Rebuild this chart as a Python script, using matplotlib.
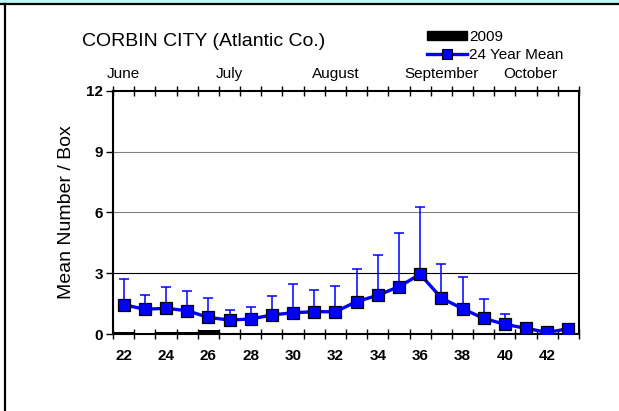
import matplotlib
matplotlib.use("Agg")
import matplotlib.pyplot as plt
import numpy as np
from matplotlib.patches import Patch, Rectangle
from matplotlib.lines import Line2D

plt.rcParams['font.family'] = ['Liberation Sans', 'DejaVu Sans']

weeks = list(range(22, 44))
mean_24yr = [1.45, 1.22, 1.27, 1.15, 0.82, 0.69, 0.74, 0.94, 1.05, 1.1,
             1.1, 1.6, 1.91, 2.34, 2.95, 1.78, 1.25, 0.77, 0.48, 0.28, 0.08, 0.26]
mean_upper = [2.7, 1.93, 2.34, 2.14, 1.76, 1.19, 1.32, 1.88, 2.45, 2.15,
              2.37, 3.21, 3.9, 4.99, 6.29, 3.47, 2.81, 1.74, 1.0, 0.4, 0.15, 0.35]
y2009 = [0.09, 0, 0.08, 0.08, 0.2, 0, 0, 0, 0, 0,
         0, 0, 0, 0, 0, 0, 0, 0, 0, 0, 0, 0]
months = ["June", "July", "August", "September", "October"]
month_pos = [22.0, 27.0, 32.0, 37.0, 41.2]

W, H = 619, 411
fig = plt.figure(figsize=(W / 100, H / 100), dpi=100)
ax = fig.add_axes([113 / W, 1 - 334 / H, (579 - 113) / W, (334 - 91) / H])

# page frame
fig.patches.append(Rectangle((0, 1 - 3 / H), 1, 3 / H, transform=fig.transFigure,
                             facecolor="#c0f8f8", edgecolor="none"))
fig.lines.append(Line2D([0, 1], [1 - 4 / H, 1 - 4 / H], transform=fig.transFigure,
                        color="black", lw=1.6))
fig.lines.append(Line2D([5 / W, 5 / W], [0, 1 - 4 / H], transform=fig.transFigure,
                        color="black", lw=1.6))

# gridlines
ax.axhline(3, color="black", lw=0.8, zorder=1)
for g in [6, 9]:
    ax.axhline(g, color="#808080", lw=0.8, zorder=1)

ax.bar(weeks, y2009, width=1.0, color="black", zorder=2, clip_on=False)

mean_arr = np.array(mean_24yr)
up = np.array(mean_upper) - mean_arr
ax.errorbar(weeks, mean_24yr, yerr=[np.zeros_like(up), up], fmt="none",
            ecolor="blue", elinewidth=1.1, capsize=3.3, capthick=1.1, zorder=3)
ax.plot(weeks, mean_24yr, color="blue", lw=2.4, marker="s", markersize=8.5,
        markerfacecolor="blue", markeredgecolor="black", markeredgewidth=0.9, zorder=4)

ax.set_xlim(21.5, 43.5)
ax.set_ylim(0, 12)
ax.set_yticks([0, 3, 6, 9, 12])
ax.set_xticks(np.arange(21.5, 44, 1.0))
ax.set_xticklabels([])
ax.set_xticks(np.arange(22, 44, 2), minor=True)
ax.set_xticklabels([str(w) for w in range(22, 44, 2)], minor=True,
                   fontsize=11, fontweight="bold")
ax.tick_params(axis="x", which="major", direction="inout", length=7, width=1,
               top=True, bottom=True)
ax.tick_params(axis="x", which="minor", length=0, pad=11)
ax.tick_params(axis="y", direction="out", length=5, width=1, labelsize=11, pad=2)
for lbl in ax.get_yticklabels():
    lbl.set_fontweight("bold")
for s in ax.spines.values():
    s.set_linewidth(1.5)

ax.set_ylabel("Mean Number / Box", fontsize=14, labelpad=8)

for m, p in zip(months, month_pos):
    ax.text(p, 1.07, m, transform=ax.get_xaxis_transform(), ha="center", va="center",
            fontsize=11)

fig.text(82 / W, 1 - 42 / H, "CORBIN CITY (Atlantic Co.)", fontsize=14,
         ha="left", va="center")

handles = [Patch(facecolor="black", edgecolor="black"),
           Line2D([], [], color="blue", lw=2.4, marker="s", markersize=7,
                  markerfacecolor="blue", markeredgecolor="black", markeredgewidth=0.8)]
fig.legend(handles, ["2009", "24 Year Mean"], loc="upper left",
           bbox_to_anchor=(427 / W, 1 - 30 / H), frameon=False, fontsize=11,
           handlelength=2.6, handleheight=0.5, handletextpad=0.15,
           labelspacing=0.25, borderpad=0, borderaxespad=0)

fig.savefig("out.png", dpi=100)
